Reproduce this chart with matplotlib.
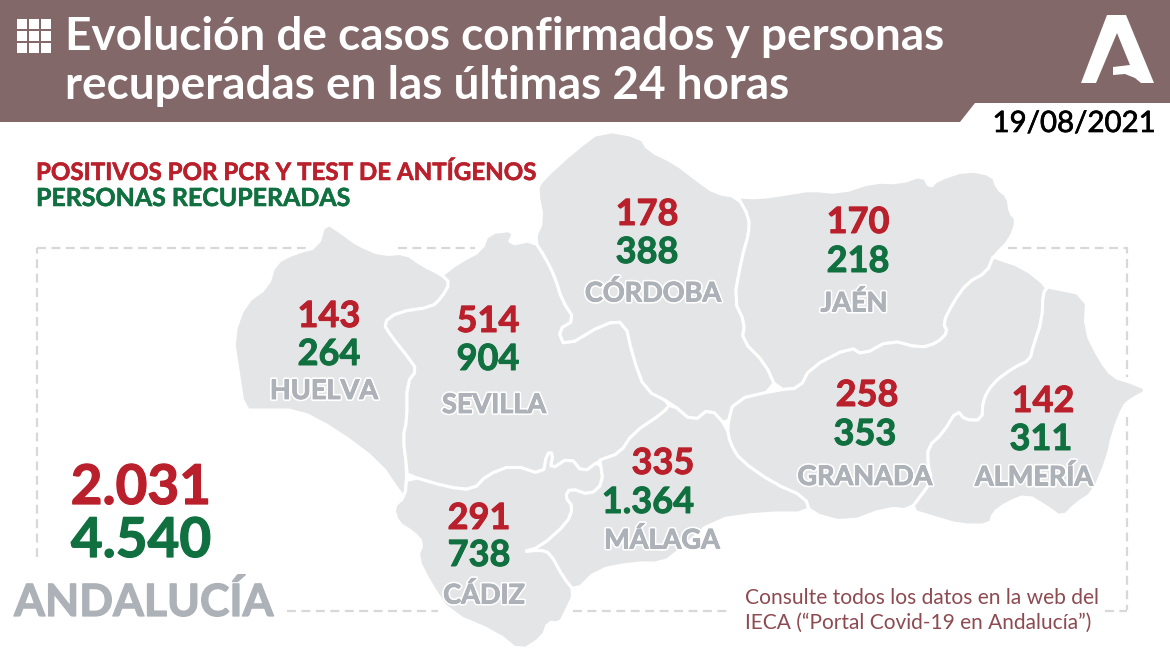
import matplotlib
matplotlib.use("Agg")
import matplotlib.pyplot as plt
import matplotlib.patheffects as pe
from matplotlib.patches import Polygon, Rectangle

# Colors:
header_color = "#83686a"
map_color = "#e4e5e7"
red = "#b9202b"
green = "#10703f"
name_color = "#adb1b8"
dash_color = "#d6d8da"
note_color = "#8d4a50"

# Data:
provinces = ["HUELVA", "SEVILLA", "CÓRDOBA", "JAÉN", "GRANADA", "ALMERÍA", "MÁLAGA", "CÁDIZ"]
positives = ["143", "514", "178", "170", "258", "142", "335", "291"]
recovered = ["264", "904", "388", "218", "353", "311", "1.364", "738"]
total_positives = "2.031"
total_recovered = "4.540"

# Label places, in pixels (baselines for the numbers):
positive_xy = [(329, 327), (488, 332), (647, 225), (858, 233), (867, 406), (1043, 412), (663, 474), (479, 529)]
recovered_xy = [(329, 365), (488, 370), (647, 263), (858, 272), (865, 445), (1041, 450), (648, 513), (479, 566)]
name_xy = [(324, 391), (494, 405), (653, 293), (854, 303), (865, 477), (1034, 477), (662, 540), (484, 595)]

# Province borders, in pixels:
hue_sev = [(442, 275), (450, 283), (442, 297), (432, 307), (398, 312), (383, 323), (392, 337), (408, 357), (417, 370),
           (407, 383), (407, 420), (403, 437), (407, 470)]
sev_cor = [(534, 240), (545, 257), (555, 277), (562, 300), (575, 320), (558, 330), (565, 347), (605, 323), (625, 322),
           (633, 357), (645, 390), (671, 403)]
sev_mal = [(671, 403), (663, 413), (633, 433), (620, 453), (600, 460)]
sev_cad = [(600, 460), (583, 473), (570, 457), (550, 470), (553, 453), (547, 453), (543, 475), (513, 465), (487, 475),
           (473, 490), (447, 487), (407, 475)]
cor_mal = [(671, 403), (693, 422), (710, 408), (727, 427)]
cor_jae = [(738, 197), (749, 217), (749, 233), (742, 257), (734, 300), (745, 323), (742, 340), (765, 363), (777, 390)]
cor_gra = [(777, 390), (734, 400), (727, 427)]
jae_gra = [(993, 257), (987, 272), (967, 283), (953, 303), (943, 323), (948, 332), (937, 343), (920, 348), (890, 340),
           (863, 355), (850, 347), (810, 368), (800, 388), (777, 390)]
gra_alm = [(1048, 287), (1043, 293), (1042, 320), (1033, 347), (1030, 360), (1013, 368), (993, 383), (983, 400),
           (982, 420), (965, 420), (957, 410), (943, 433), (928, 447), (928, 465), (932, 480), (923, 493), (910, 510)]
gra_mal = [(727, 427), (730, 443), (740, 460), (773, 483), (805, 497), (810, 513)]
cad_mal = [(600, 460), (603, 483), (590, 495), (570, 488), (565, 497), (573, 507), (567, 523), (540, 547), (522, 552),
           (540, 550), (550, 553), (563, 577), (575, 592)]

# Outer edges, in pixels:
hue_north = [(325, 222), (342, 233), (358, 245), (382, 255), (405, 253), (422, 265)]
hue_coast = [(405, 497), (400, 493), (380, 463), (336, 430), (298, 410), (261, 410), (244, 410), (238, 370), (233, 337),
             (245, 303), (268, 287), (275, 263), (295, 253), (318, 247)]
sev_north = [(458, 263), (482, 250), (488, 233), (515, 230), (508, 245)]
cor_north = [(602, 130), (641, 137), (648, 150), (675, 163), (697, 180), (715, 193)]
cor_west = [(543, 220), (537, 190), (542, 180), (575, 150)]
jae_north = [(760, 198), (793, 193), (810, 190), (840, 193), (873, 182), (900, 183), (923, 175), (930, 188), (937, 180),
             (967, 170), (993, 175), (997, 188), (1008, 197), (1010, 213), (1017, 220), (1010, 240)]
gra_north = [(1023, 267)]
gra_coast = [(887, 508), (847, 523)]
alm_coast = [(1087, 295), (1085, 330), (1100, 360), (1113, 377), (1130, 382), (1149, 390), (1130, 400), (1123, 407),
             (1113, 433), (1107, 460), (1093, 493), (1077, 503), (1062, 518), (1047, 507), (1027, 495), (1007, 503),
             (993, 513), (990, 525), (960, 525), (933, 517)]
mal_coast = [(763, 513), (713, 520), (680, 550), (663, 563), (633, 563), (597, 570)]
cad_coast = [(565, 613), (560, 623), (548, 622), (543, 637), (520, 652), (497, 633), (450, 613), (430, 583), (417, 557),
             (423, 543), (413, 532), (398, 523), (393, 507)]

shapes = {
    "HUELVA": hue_north + hue_sev + hue_coast,
    "SEVILLA": hue_sev[:1] + sev_north + sev_cor + sev_mal[1:] + sev_cad[1:] + hue_sev[::-1],
    "CÓRDOBA": cor_north + cor_jae + cor_gra[1:] + cor_mal[::-1][1:] + sev_cor[::-1][1:] + cor_west,
    "JAÉN": cor_jae[:1] + jae_north + jae_gra + cor_jae[::-1][1:],
    "GRANADA": jae_gra[:1] + gra_north + gra_alm + gra_coast + gra_mal[::-1] + cor_gra[::-1][1:] + jae_gra[::-1][1:],
    "ALMERÍA": gra_alm[:1] + alm_coast + gra_alm[::-1],
    "MÁLAGA": sev_mal[::-1] + cor_mal[1:] + gra_mal[1:] + mal_coast + cad_mal[::-1],
    "CÁDIZ": hue_coast[:1] + sev_cad[::-1] + cad_mal[1:] + cad_coast,
}


def smooth(points):
    # one pass of corner cutting, the map has no hard corners
    out = []
    for i, (x0, y0) in enumerate(points):
        x1, y1 = points[(i + 1) % len(points)]
        out.append((0.75 * x0 + 0.25 * x1, 0.75 * y0 + 0.25 * y1))
        out.append((0.25 * x0 + 0.75 * x1, 0.25 * y0 + 0.75 * y1))
    return out


def thick(color, width=0.7):
    return [pe.withStroke(linewidth=width, foreground=color)]


plt.rcParams["font.family"] = ["Lato", "DejaVu Sans"]

fig = plt.figure(figsize=(11.7, 6.57), dpi=100)
ax = fig.add_axes([0, 0, 1, 1])
ax.set_xlim(0, 1170)
ax.set_ylim(657, 0)
ax.axis("off")

# Header:
ax.add_patch(Polygon([(0, 0), (1170, 0), (1170, 103), (975, 103), (960, 122), (0, 122)], facecolor=header_color,
                     edgecolor="none"))
for row in range(3):
    for col in range(3):
        ax.add_patch(Rectangle((17 + col * 12, 19 + row * 12), 9.5, 9.5, facecolor="white", edgecolor="none"))
ax.text(65, 50, "Evolución de casos confirmados y personas", color="white", fontsize=33, fontweight="bold",
        va="baseline", ha="left")
ax.text(65, 99, "recuperadas en las últimas 24 horas", color="white", fontsize=33, fontweight="bold",
        va="baseline", ha="left")
ax.text(1155, 132, "19/08/2021", color="black", fontsize=21.2, va="baseline", ha="right",
        path_effects=thick("black", 0.5))

# Logo:
ax.add_patch(Polygon([(1107, 15), (1126, 15), (1154, 83), (1141, 83), (1135, 78), (1125, 74), (1113, 75), (1113, 67),
                      (1130, 65), (1117, 33), (1096, 83), (1081, 83)], facecolor="white", edgecolor="none"))

# Frame:
dash = dict(color=dash_color, lw=1.6, ls=(0, (4, 2.5)), zorder=1)
ax.plot([37, 37], [557, 248], **dash)
ax.plot([37, 306], [248, 248], **dash)
ax.plot([398, 475], [248, 248], **dash)
ax.plot([1008, 1127, 1127], [248, 248, 377], **dash)
ax.plot([1127, 1127], [417, 610], **dash)
ax.plot([287, 438], [611, 611], **dash)
ax.plot([573, 730], [611, 611], **dash)
ax.plot([1105, 1127], [611, 611], **dash)

# Map:
for name in provinces:
    ax.add_patch(Polygon(smooth(shapes[name]), closed=True, facecolor=map_color, edgecolor="white", lw=2.2,
                         joinstyle="round", zorder=2))

for i, name in enumerate(provinces):
    ax.text(*positive_xy[i], positives[i], color=red, fontsize=26, fontweight="bold", ha="center", va="baseline",
            path_effects=thick(red), zorder=3)
    ax.text(*recovered_xy[i], recovered[i], color=green, fontsize=26, fontweight="bold", ha="center", va="baseline",
            path_effects=thick(green), zorder=3)
    ax.text(*name_xy[i], name, color=name_color, fontsize=19.5, fontweight="bold", ha="center", va="center",
            path_effects=[pe.withStroke(linewidth=3, foreground="white"), pe.withStroke(linewidth=0.6, foreground=name_color)],
            zorder=3)

# Totals:
ax.text(141, 504, total_positives, color=red, fontsize=39.5, fontweight="bold", ha="center", va="baseline",
        path_effects=thick(red, 0.9), zorder=3)
ax.text(141, 557, total_recovered, color=green, fontsize=39.5, fontweight="bold", ha="center", va="baseline",
        path_effects=thick(green, 0.9), zorder=3)
ax.text(144, 616, "ANDALUCÍA", color=name_color, fontsize=32, fontweight="bold", ha="center", va="baseline",
        path_effects=thick(name_color, 0.9), zorder=3)

# Legend:
ax.text(36, 180, "POSITIVOS POR PCR Y TEST DE ANTÍGENOS", color=red, fontsize=17.35, fontweight="bold", ha="left",
        va="baseline", path_effects=thick(red, 0.4), zorder=3)
ax.text(36, 206, "PERSONAS RECUPERADAS", color=green, fontsize=17.95, fontweight="bold", ha="left", va="baseline",
        path_effects=thick(green, 0.4), zorder=3)

# Note:
ax.text(745, 604, "Consulte todos los datos en la web del", color=note_color, fontsize=15.15, ha="left", va="baseline",
        zorder=3)
ax.text(745, 629, "IECA (“Portal Covid-19 en Andalucía”)", color=note_color, fontsize=15, ha="left", va="baseline",
        zorder=3)

fig.savefig("out.png", dpi=100)
